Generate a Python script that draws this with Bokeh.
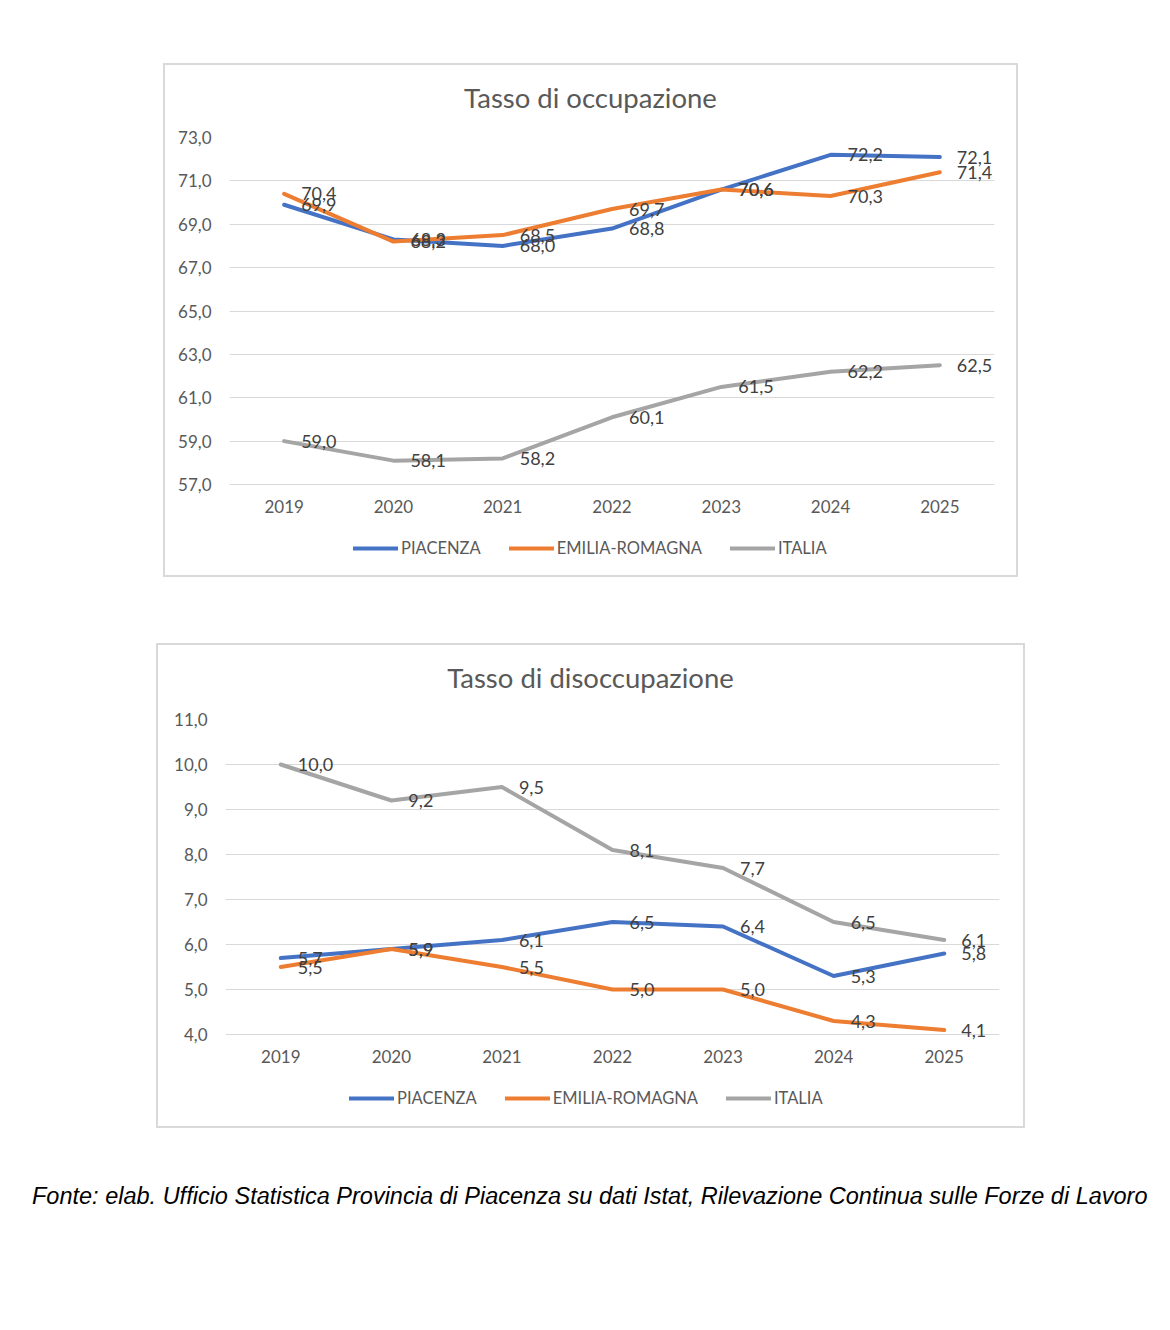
from bokeh.plotting import figure
from bokeh.models import FactorRange, Range1d, FixedTicker, Legend, LegendItem, Div, Spacer
from bokeh.layouts import column, row
from bokeh.embed import file_html
from bokeh.resources import INLINE
from bokeh.core.properties import value

years = ["2019", "2020", "2021", "2022", "2023", "2024", "2025"]
series_names = ["PIACENZA", "EMILIA-ROMAGNA", "ITALIA"]

occ_piacenza = [69.9, 68.3, 68.0, 68.8, 70.6, 72.2, 72.1]
occ_emilia = [70.4, 68.2, 68.5, 69.7, 70.6, 70.3, 71.4]
occ_italia = [59.0, 58.1, 58.2, 60.1, 61.5, 62.2, 62.5]

dis_piacenza = [5.7, 5.9, 6.1, 6.5, 6.4, 5.3, 5.8]
dis_emilia = [5.5, 5.9, 5.5, 5.0, 5.0, 4.3, 4.1]
dis_italia = [10.0, 9.2, 9.5, 8.1, 7.7, 6.5, 6.1]

occ_ticks = [57, 59, 61, 63, 65, 67, 69, 71, 73]
occ_tick_labels = ["57,0", "59,0", "61,0", "63,0", "65,0", "67,0", "69,0", "71,0", "73,0"]
dis_ticks = [4, 5, 6, 7, 8, 9, 10, 11]
dis_tick_labels = ["4,0", "5,0", "6,0", "7,0", "8,0", "9,0", "10,0", "11,0"]

title_occ = "Tasso di occupazione"
title_dis = "Tasso di disoccupazione"
source_text = ("Fonte: elab. Ufficio Statistica Provincia di Piacenza su dati Istat, "
               "Rilevazione Continua sulle Forze di Lavoro")

COLORS = ["#4472C4", "#ED7D31", "#A5A5A5"]
FONT = "Lato"
NAN = float("nan")
PAD_PX = 14  # extra room below the lowest gridline so labels there are not clipped


def fmt(v):
    return f"{v:.1f}".replace(".", ",")


def style_line(col):
    return dict(line_color=col, line_width=4, line_cap="round", line_join="round")


def make_box(title, series, ticks, tick_labels, width, title_h, chart_h, leg_h,
             b_left, b_right, b_top, b_bottom, leg_x, leg_y):
    t = Div(text=title, width=width, height=title_h, margin=0,
            styles={"text-align": "center", "font-family": FONT, "font-size": "27.5px",
                    "color": "#595959", "line-height": "66px", "white-space": "nowrap",
                    "overflow": "visible"})

    span = ticks[-1] - ticks[0]
    frame_h = chart_h - b_top - b_bottom
    pad = PAD_PX * span / frame_h

    p = figure(width=width, height=chart_h, x_range=FactorRange(*years),
               y_range=Range1d(ticks[0] - pad, ticks[-1]),
               output_backend="svg", toolbar_location=None,
               min_border_left=b_left, min_border_right=b_right,
               min_border_top=b_top, min_border_bottom=b_bottom - PAD_PX)
    p.outline_line_color = None
    p.background_fill_color = "white"
    p.border_fill_color = "white"

    p.xgrid.grid_line_color = None
    p.ygrid.grid_line_color = "#d9d9d9"
    p.ygrid.grid_line_width = 1
    p.yaxis.ticker = FixedTicker(ticks=ticks)
    p.yaxis.major_label_overrides = {tk: lb for tk, lb in zip(ticks, tick_labels)}
    for ax in (p.xaxis, p.yaxis):
        ax.axis_line_color = None
        ax.major_tick_line_color = None
        ax.minor_tick_line_color = None
        ax.major_tick_out = 0
        ax.major_tick_in = 0
        ax.major_label_text_font = FONT
        ax.major_label_text_font_size = "17px"
        ax.major_label_text_color = "#595959"
    p.yaxis.major_label_standoff = 18
    p.xaxis.major_label_standoff = 15 - PAD_PX

    for vals, col in zip(series, COLORS):
        p.line(years, vals, **style_line(col))
    for vals in series:
        p.text(years, vals, text=[fmt(v) for v in vals], x_offset=17,
               text_align="left", text_baseline="middle",
               text_font=value(FONT), text_font_size="18px", text_color="#404040")

    # legend strip (its own small figure, inside the same bordered box)
    lf = figure(width=width, height=leg_h, x_range=Range1d(0, 1), y_range=Range1d(0, 1),
                output_backend="svg", toolbar_location=None,
                min_border_left=0, min_border_right=0, min_border_top=0, min_border_bottom=0)
    lf.axis.visible = False
    lf.grid.visible = False
    lf.outline_line_color = None
    lf.background_fill_color = "white"
    lf.border_fill_color = "white"
    items = []
    for name, col in zip(series_names, COLORS):
        r = lf.line(x=[NAN], y=[NAN], **style_line(col))
        items.append(LegendItem(label=name, renderers=[r]))
    leg = Legend(items=items, orientation="horizontal", location=(leg_x, leg_y))
    leg.padding = 0
    leg.margin = 0
    leg.spacing = 28
    leg.glyph_width = 45
    leg.glyph_height = 20
    leg.label_standoff = 3
    leg.label_height = 20
    leg.label_text_font = FONT
    leg.label_text_font_size = "16.5px"
    leg.label_text_color = "#595959"
    leg.background_fill_alpha = 0
    leg.border_line_color = None
    lf.add_layout(leg, "center")

    box = column(t, p, lf, styles={"border": "2px solid #d9d9d9", "background-color": "white"})
    return box


box1 = make_box(title_occ, [occ_piacenza, occ_emilia, occ_italia], occ_ticks, occ_tick_labels,
                851, 50, 410, 50, 64, 22, 22, 41, 124, 17)
box2 = make_box(title_dis, [dis_piacenza, dis_emilia, dis_italia], dis_ticks, dis_tick_labels,
                865, 50, 380, 51, 67, 24, 24, 41, 124, 18)

footer = Div(text=source_text, width=1140, height=28, margin=0,
             styles={"font-family": "Liberation Sans", "font-style": "italic",
                     "font-size": "23.5px", "color": "#000000", "white-space": "nowrap",
                     "line-height": "28px"})

layout = column(
    Spacer(height=63),
    row(Spacer(width=163), box1),
    Spacer(height=66),
    row(Spacer(width=156), box2),
    Spacer(height=54),
    row(Spacer(width=32), footer),
)

open("out.html", "w").write(file_html(layout, INLINE))
